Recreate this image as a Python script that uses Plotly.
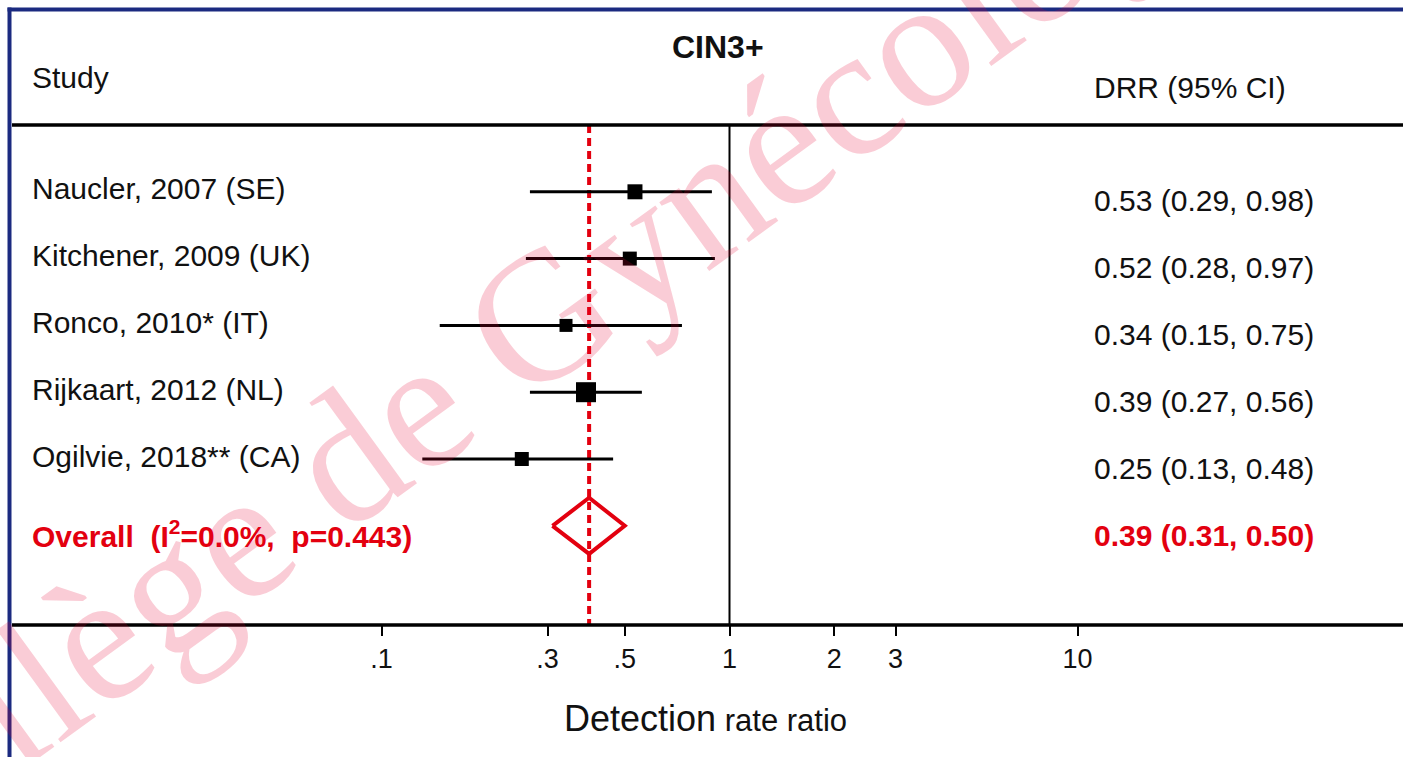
import plotly.graph_objects as go

# ---------------- data ----------------
studies = ["Naucler, 2007 (SE)", "Kitchener, 2009 (UK)", "Ronco, 2010* (IT)",
           "Rijkaart, 2012 (NL)", "Ogilvie, 2018** (CA)"]
drr = [0.535, 0.517, 0.339, 0.387, 0.253]
ci_lo = [0.267, 0.260, 0.147, 0.267, 0.131]
ci_hi = [0.890, 0.908, 0.730, 0.560, 0.463]
drr_labels = ["0.53 (0.29, 0.98)", "0.52 (0.28, 0.97)", "0.34 (0.15, 0.75)",
              "0.39 (0.27, 0.56)", "0.25 (0.13, 0.48)"]
overall_est = 0.395
overall_lo = 0.31
overall_hi = 0.50
overall_label = "Overall\u00a0\u00a0(I<sup>2</sup>=0.0%,\u00a0\u00a0p=0.443)"
overall_drr_label = "0.39 (0.31, 0.50)"
tick_vals = [0.1, 0.3, 0.5, 1, 2, 3, 10]
tick_text = [".1", ".3", ".5", "1", "2", "3", "10"]

# ---------------- styling / layout constants ----------------
W, H = 1403, 757
X1, DEC = 729.5, 348.0          # pixel of x=1, pixels per decade
Y0, ROW = 125.0, 66.8           # pixel of header line, pixels per row
AXIS_PX = 625.0
marker_sizes = [15, 14, 13, 20, 14]
FONT = "Arial, 'Liberation Sans', sans-serif"
RED = "#e3000f"
BLUE = "#1b2a80"
INK = "#111111"

def ypx(px):
    return (px - Y0) / ROW

rows = list(range(1, len(studies) + 1))
overall_row = len(studies) + 1

fig = go.Figure()

# confidence interval lines
cx, cy = [], []
for r, lo, hi in zip(rows, ci_lo, ci_hi):
    cx += [lo, hi, None]
    cy += [r, r, None]
fig.add_trace(go.Scatter(x=cx, y=cy, mode="lines",
                         line=dict(color="black", width=3), hoverinfo="skip"))

# point estimates
fig.add_trace(go.Scatter(x=drr, y=rows, mode="markers",
                         marker=dict(symbol="square", size=marker_sizes, color="black",
                                     opacity=1, line=dict(width=0))))

# overall diamond
dh = 0.42
fig.add_trace(go.Scatter(
    x=[overall_lo, overall_est, overall_hi, overall_est, overall_lo],
    y=[overall_row, overall_row - dh, overall_row, overall_row + dh, overall_row],
    mode="lines", line=dict(color=RED, width=4)))

shapes = [
    # overall estimate dotted line (behind the markers)
    dict(type="line", xref="x", yref="y", x0=overall_est, x1=overall_est, y0=0, y1=ypx(AXIS_PX),
         layer="below", line=dict(color=RED, width=4, dash="8px,5px")),
    # blue frame
    dict(type="line", xref="paper", yref="paper", x0=7.5 / W, x1=1, y0=1 - 9.5 / H, y1=1 - 9.5 / H,
         line=dict(color=BLUE, width=4)),
    dict(type="line", xref="paper", yref="paper", x0=9.5 / W, x1=9.5 / W, y0=1 - 7.5 / H, y1=0,
         line=dict(color=BLUE, width=4)),
    # header and axis lines
    dict(type="line", xref="paper", yref="paper", x0=12 / W, x1=1, y0=1 - Y0 / H, y1=1 - Y0 / H,
         line=dict(color="black", width=3.5)),
    dict(type="line", xref="paper", yref="paper", x0=12 / W, x1=1, y0=1 - AXIS_PX / H, y1=1 - AXIS_PX / H,
         line=dict(color="black", width=3.5)),
    # null line
    dict(type="line", xref="x", yref="y", x0=1, x1=1, y0=0, y1=ypx(AXIS_PX),
         line=dict(color="black", width=2)),
]

def note(text, x, y, size, color=INK, xanchor="left", xref="paper", yref="paper", yshift=0):
    return dict(text=text, xref=xref, yref=yref, x=x, y=y, xanchor=xanchor, yanchor="middle",
                yshift=yshift, showarrow=False, font=dict(size=size, color=color, family=FONT))

ann = []
ann.append(note("<b>CIN3+</b>", 718 / W, 1 - 47 / H, 32, xanchor="center"))
ann.append(note("Study", 30 / W, 1 - 77 / H, 30))
ann.append(note("DRR (95% CI)", 1092 / W, 1 - 88 / H, 30))
for r, s, lab in zip(rows, studies, drr_labels):
    ann.append(note(s, 30 / W, r, 30, yref="y", yshift=3))
    ann.append(note(lab, 1092 / W, r, 30, yref="y", yshift=-9))
ann.append(note("<b>" + overall_label + "</b>", 30 / W, overall_row, 30, color=RED, yref="y", yshift=-8))
ann.append(note("<b>" + overall_drr_label + "</b>", 1092 / W, overall_row, 30, color=RED,
                yref="y", yshift=-10))
ann.append(note("<span style='font-size:36px'>Detection</span> rate ratio", 705 / W, 1 - 718 / H, 31,
                xanchor="center"))
# watermark
ann.append(dict(text="Collège de Gynécologie", xref="paper", yref="paper", x=528 / W, y=1 - 326 / H,
                xanchor="center", yanchor="middle", textangle=-36, showarrow=False,
                font=dict(size=185, color="rgba(230,0,50,0.2)",
                          family="'Liberation Serif', 'Times New Roman', serif")))

fig.update_layout(
    width=W, height=H, margin=dict(l=0, r=0, t=0, b=0),
    paper_bgcolor="white", plot_bgcolor="white", showlegend=False,
    shapes=shapes, annotations=ann,
    xaxis=dict(type="log", range=[-X1 / DEC, (W - X1) / DEC], domain=[0, 1],
               anchor="free", position=1 - AXIS_PX / H,
               showgrid=False, zeroline=False, showline=False,
               ticks="outside", ticklen=10, tickwidth=2, tickcolor="black",
               tickvals=tick_vals, ticktext=tick_text,
               tickfont=dict(size=27, color=INK, family=FONT)),
    yaxis=dict(range=[(H - Y0) / ROW, -Y0 / ROW], domain=[0, 1], visible=False,
               showgrid=False, zeroline=False),
)

fig.write_html("out.html", config={"displayModeBar": False},
               post_script="document.body.style.margin='0px';")
